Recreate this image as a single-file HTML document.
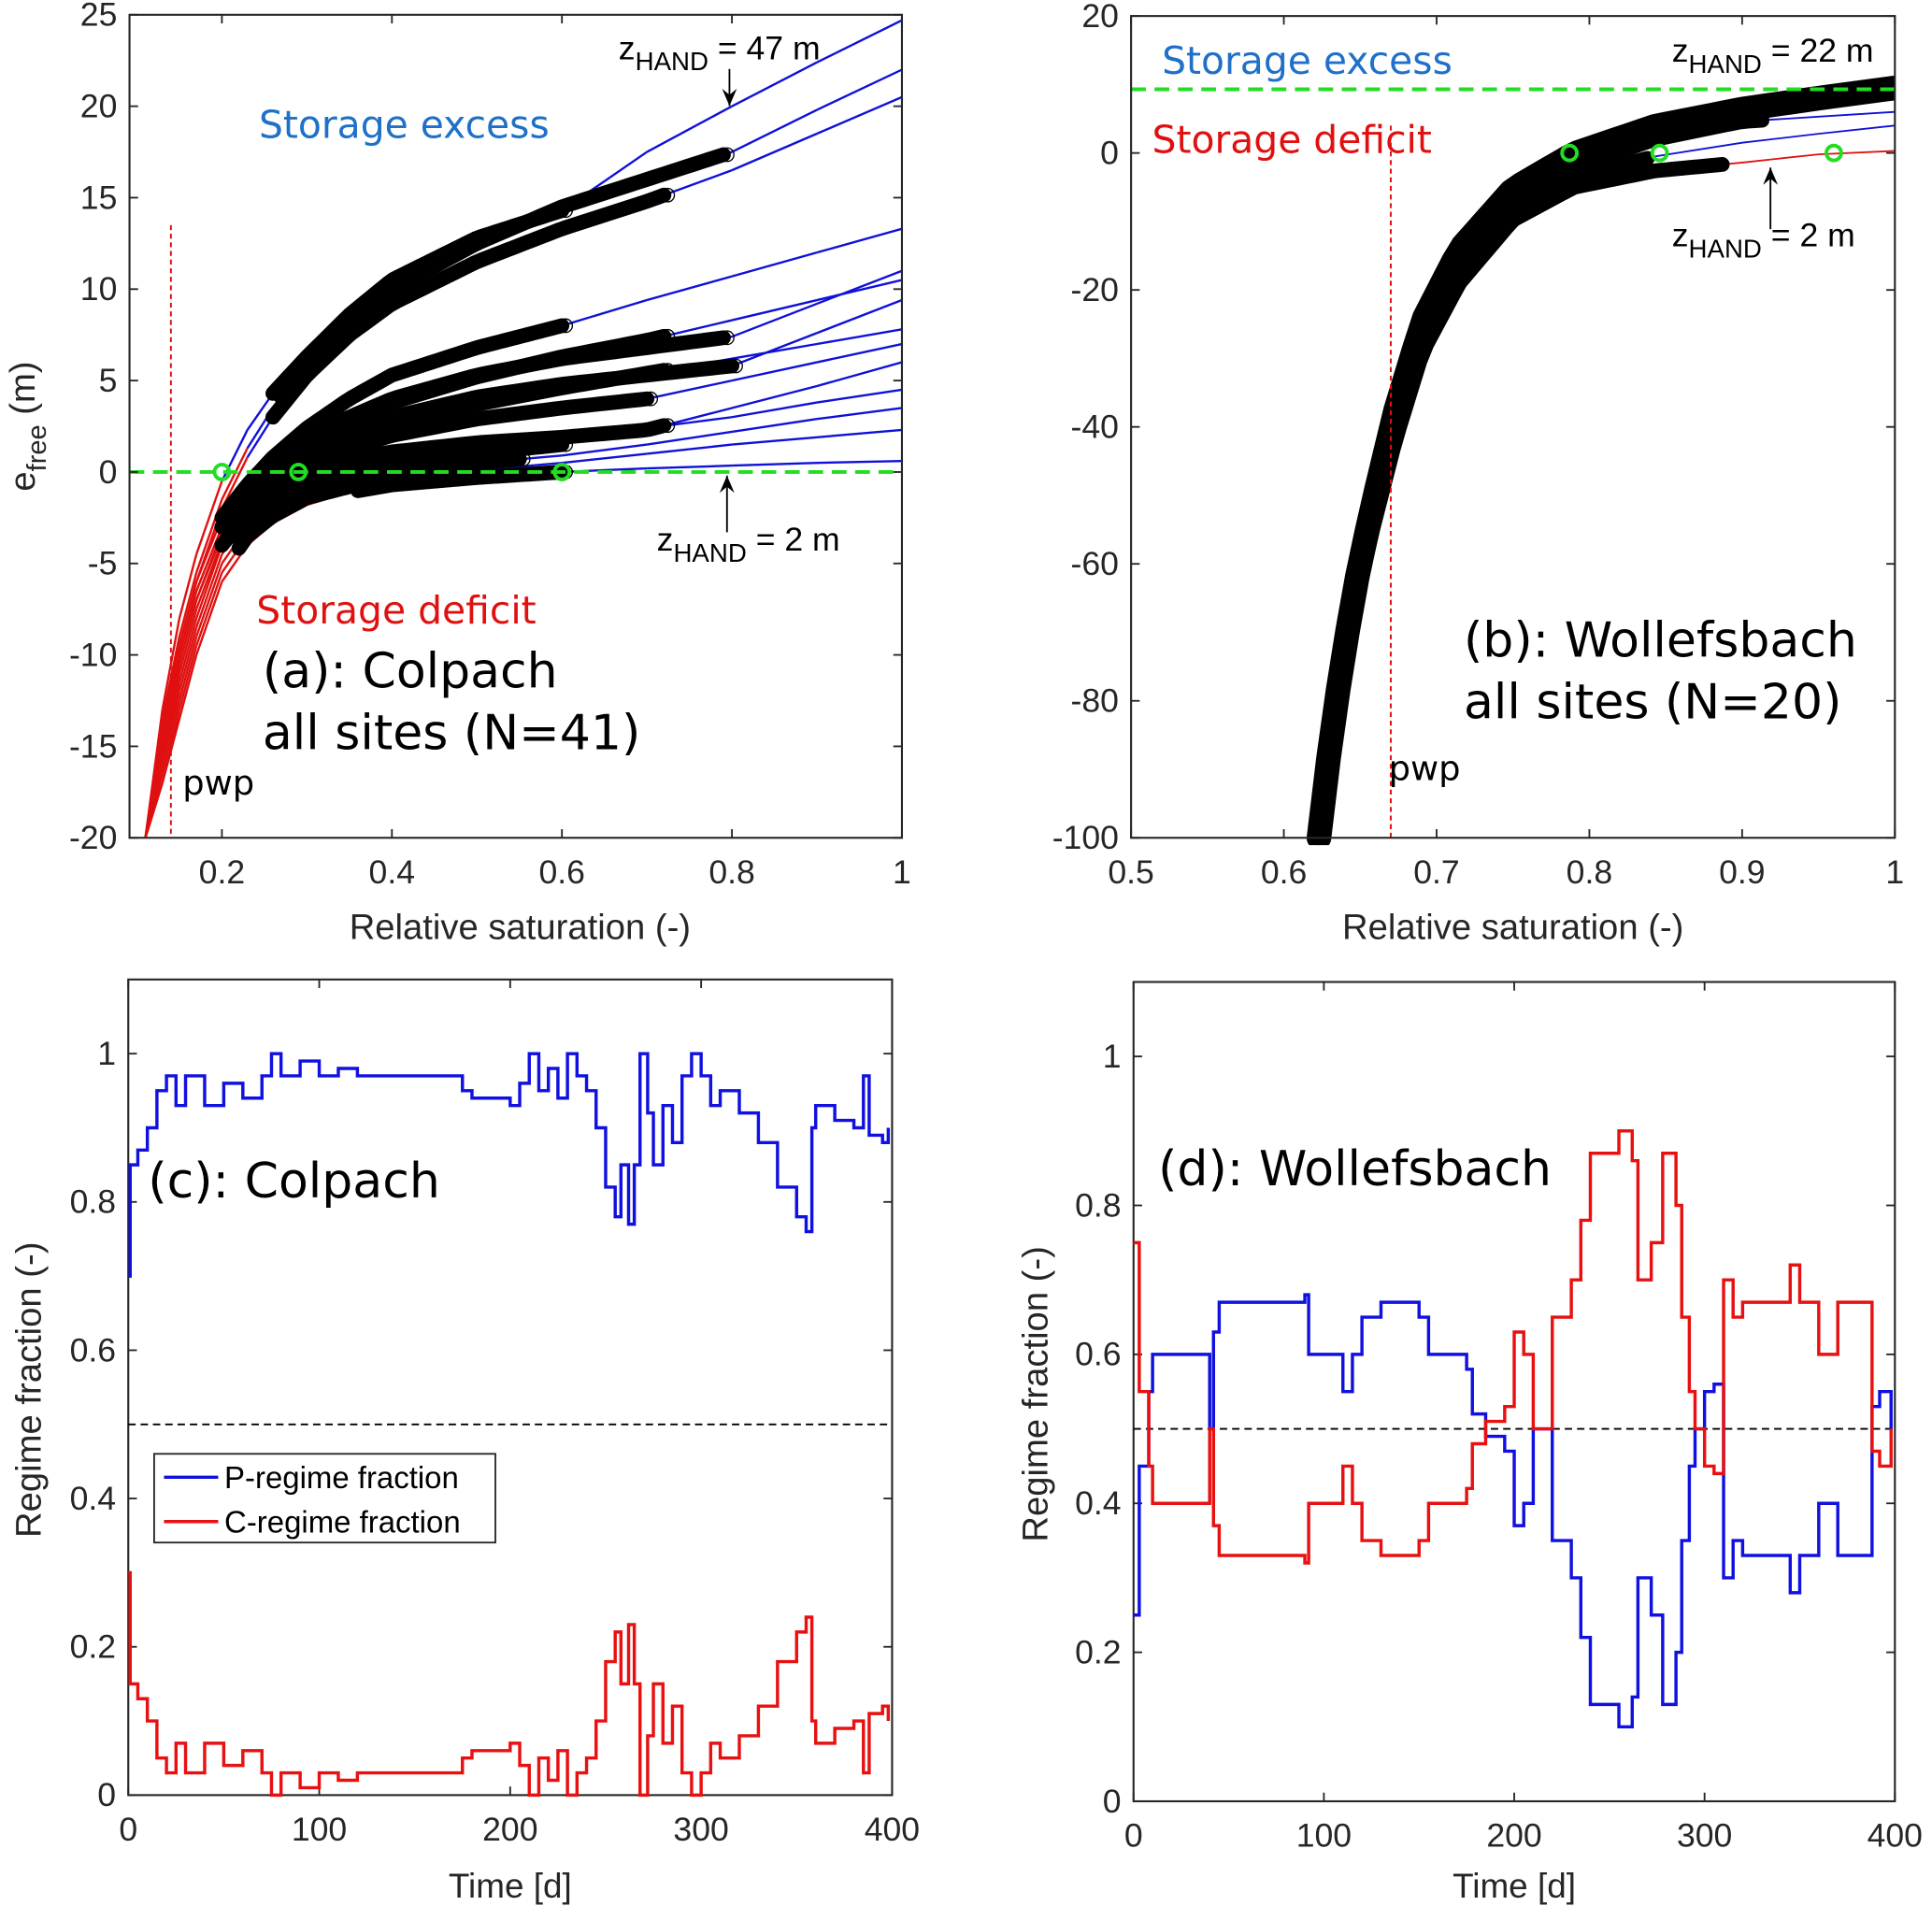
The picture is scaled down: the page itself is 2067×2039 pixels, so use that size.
<!DOCTYPE html>
<html><head><meta charset="utf-8"><style>
html,body{margin:0;padding:0;background:#fff}
svg{display:block}
text{font-family:"Liberation Sans","DejaVu Sans",sans-serif}
text.dv{font-family:"DejaVu Sans","Liberation Sans",sans-serif}
</style></head><body>
<svg id="fig" width="2067" height="2039" viewBox="0 0 1568 1547" xmlns="http://www.w3.org/2000/svg">
<g id="ga"></g>
<g id="gb"></g>
<g id="gc"></g>
<g id="gd"></g>
</svg>
<script>
// ---- Panel (a) data ----
const aX = [0.11,0.13,0.15,0.17,0.2,0.23,0.26,0.3,0.35,0.4,0.5,0.6,0.7,0.8,0.9,1.0];
const aCurves = [
 [-20,-13,-8,-4.5,-0.5,2.3,4.3,6.3,8.6,10.5,12.8,14.3,17.5,20,22.4,24.7],
 [-20,-13.5,-9,-5.5,-1.5,1.3,3.5,5.8,8.2,10,12.5,14.5,16,17.5,19.8,22],
 [-20,-14,-9.5,-6,-2,0.8,3,5.3,7.5,9.2,11.5,13.3,14.8,16.5,18.5,20.5],
 [-20,-14,-9.5,-6,-2.5,-0.7,0.8,2.4,4,5.3,6.8,8,9.4,10.7,12,13.3],
 [-20,-14.5,-10,-6.5,-3,-1.2,0.3,1.8,3,4,5.3,6.2,6.8,7.4,9.2,11],
 [-20,-14.5,-10,-6.5,-3,-1.3,0.1,1.5,2.8,3.8,5.2,6.3,7.2,8.3,9.4,10.5],
 [-20,-15,-10.5,-7,-3.3,-1.6,-0.2,1.1,2.2,3,4.1,4.8,5.3,5.8,7.6,9.4],
 [-20,-15,-10.5,-7,-3.5,-1.8,-0.5,0.8,1.8,2.6,3.7,4.6,5.4,6.2,7,7.8],
 [-20,-15.5,-11,-7.5,-3.8,-2,-0.8,0.4,1.3,2,2.9,3.5,4,5,6,7],
 [-20,-16,-11.5,-8,-4,-2.3,-1.2,0,0.7,1.1,1.6,1.9,2.3,3.5,4.7,6],
 [-20,-16,-12,-8.5,-4.5,-2.6,-1.6,-0.5,0.1,0.5,1,1.5,2.4,3,3.8,4.5],
 [-20,-16.5,-12.5,-9,-5,-3,-2,-1,-0.4,0,0.5,0.9,1.5,2.2,2.9,3.5],
 [-20,-17,-13,-9.5,-5.5,-3.5,-2.4,-1.4,-0.8,-0.4,0.1,0.5,1,1.5,1.9,2.3],
 [-20,-17,-13.5,-10,-6,-4,-2.8,-1.8,-1.1,-0.7,-0.3,0,0.2,0.35,0.5,0.6]
];
const aBandStart = [0.26,0.27,0.26,0.2,0.2,0.2,0.21,0.21,0.22,0.2,0.22,0.22,0.22,0.36];
const aBandEnd   = [0.6,0.79,0.72,0.6,0.79,0.72,0.8,0.72,0.7,0.72,0.6,0.55,0.5,0.6];
const aGreenX = [0.2,0.29,0.6];
const aXTicks = [0.2,0.4,0.6,0.8,1];
const aYTicks = [-20,-15,-10,-5,0,5,10,15,20,25];
// ---- Panel (b) data ----
const bX = [0.623,0.63,0.638,0.647,0.657,0.673,0.691,0.715,0.75,0.79,0.843,0.9,0.95,1.0];
const bCurves = [
 [-100,-87,-74.6,-63,-52.5,-37.7,-24.5,-14.1,-5.3,-0.1,3.9,6.4,8,9.5],
 [-100,-88,-76,-64,-54,-39,-26,-15.5,-7,-2,2,4.6,5.3,6],
 [-100,-88,-76,-64,-54,-39,-26,-17,-8.5,-3.5,-0.5,1.5,2.8,4],
 [-100,-89,-77,-66,-56,-42,-29,-19,-9.8,-5,-2.6,-1.4,-0.2,0.3]
];
const bBandEnd = [1.0,0.913,0.838,0.887];
const bGreenX = [0.787,0.846,0.96];
const bXTicks = [0.5,0.6,0.7,0.8,0.9,1];
const bYTicks = [-100,-80,-60,-40,-20,0,20];
// ---- Panel (c) data ----
const cT = [0,1,5,10,15,20,25,30,40,50,60,70,75,80,90,100,110,120,140,175,180,200,205,210,215,220,225,230,235,240,245,250,255,258,262,265,268,272,275,280,285,290,295,300,305,310,320,330,340,350,355,358,360,370,380,385,388,395,398];
const cP = [0.7,0.85,0.87,0.9,0.95,0.97,0.93,0.97,0.93,0.96,0.94,0.97,1.0,0.97,0.99,0.97,0.98,0.97,0.97,0.95,0.94,0.93,0.96,1.0,0.95,0.98,0.94,1.0,0.97,0.95,0.9,0.82,0.78,0.85,0.77,0.85,1.0,0.92,0.85,0.93,0.88,0.97,1.0,0.97,0.93,0.95,0.92,0.88,0.82,0.78,0.76,0.9,0.93,0.91,0.9,0.97,0.89,0.88,0.9];
const cC = [0.3,0.15,0.13,0.1,0.05,0.03,0.07,0.03,0.07,0.04,0.06,0.03,0.0,0.03,0.01,0.03,0.02,0.03,0.03,0.05,0.06,0.07,0.04,0.0,0.05,0.02,0.06,0.0,0.03,0.05,0.1,0.18,0.22,0.15,0.23,0.15,0.0,0.08,0.15,0.07,0.12,0.03,0.0,0.03,0.07,0.05,0.08,0.12,0.18,0.22,0.24,0.1,0.07,0.09,0.1,0.03,0.11,0.12,0.1];
// ---- Panel (d) data ----
const dT = [0,3,8,10,40,42,45,90,92,110,115,120,130,150,155,170,175,178,185,195,200,205,210,220,230,235,240,250,255,262,265,272,278,285,288,292,295,300,305,310,315,320,340,345,350,360,370,380,388,392,398];
const dP = [0.25,0.45,0.55,0.6,0.5,0.63,0.67,0.68,0.6,0.55,0.6,0.65,0.67,0.65,0.6,0.6,0.58,0.52,0.49,0.47,0.37,0.4,0.5,0.35,0.3,0.22,0.13,0.13,0.1,0.14,0.3,0.25,0.13,0.2,0.35,0.45,0.5,0.55,0.56,0.3,0.35,0.33,0.33,0.28,0.33,0.4,0.33,0.33,0.53,0.55,0.5];
const dC = [0.75,0.55,0.45,0.4,0.5,0.37,0.33,0.32,0.4,0.45,0.4,0.35,0.33,0.35,0.4,0.4,0.42,0.48,0.51,0.53,0.63,0.6,0.5,0.65,0.7,0.78,0.87,0.87,0.9,0.86,0.7,0.75,0.87,0.8,0.65,0.55,0.5,0.45,0.44,0.7,0.65,0.67,0.67,0.72,0.67,0.6,0.67,0.67,0.47,0.45,0.5];
const tXTicks = [0,100,200,300,400];
const cYTicks = [0,0.2,0.4,0.6,0.8,1];

const NS = "http://www.w3.org/2000/svg";
function el(parent, tag, attrs, txt){
  const e = document.createElementNS(NS, tag);
  for (const k in attrs) e.setAttribute(k, attrs[k]);
  if (txt !== undefined) e.textContent = txt;
  parent.appendChild(e); return e;
}
function lin(d0,d1,r0,r1){ return v => r0 + (v-d0)/(d1-d0)*(r1-r0); }
function interp(xs, ys, x){
  for (let i=0;i<xs.length-1;i++){ if (x<=xs[i+1]) { const f=(x-xs[i])/(xs[i+1]-xs[i]); return ys[i]+f*(ys[i+1]-ys[i]); } }
  return ys[ys.length-1];
}
function axes(g, L, T, R, B, sx, sy, xt, yt, fmtx, fmty, name){
  const box = el(g,'rect',{x:L,y:T,width:R-L,height:B-T,fill:'none',stroke:'#262626','stroke-width':1.6});
  
  
  xt.forEach(v=>{
    const x=sx(v);
    el(g,'line',{x1:x,y1:B,x2:x,y2:B-7,stroke:'#262626','stroke-width':1.4});
    el(g,'line',{x1:x,y1:T,x2:x,y2:T+7,stroke:'#262626','stroke-width':1.4});
    const t = el(g,'text',{x:x,y:B+37,'font-size':27,'text-anchor':'middle',fill:'#262626'}, fmtx(v));
    
    
  });
  yt.forEach(v=>{
    const y=sy(v);
    el(g,'line',{x1:L,y1:y,x2:L+7,y2:y,stroke:'#262626','stroke-width':1.4});
    el(g,'line',{x1:R,y1:y,x2:R-7,y2:y,stroke:'#262626','stroke-width':1.4});
    const t = el(g,'text',{x:L-10,y:y+9,'font-size':27,'text-anchor':'end',fill:'#262626'}, fmty(v));
    
    
  });
}
function label(g, x, y, size, txt, fill, name, anchor, cls){
  const t = el(g,'text',{x:x,y:y,'font-size':size,fill:fill||'#000','text-anchor':anchor||'start'}, txt);
  if (cls) t.setAttribute('class', cls);
  
  
  return t;
}
function zhand(g, x, y, val, name){
  const t = el(g,'text',{x:x,y:y,'font-size':27,fill:'#000'});
  
  
  el(t,'tspan',{},'z');
  el(t,'tspan',{dy:9,'font-size':21},'HAND');
  el(t,'tspan',{dy:-9},' = '+val);
}
function arrow(g, x, y1, y2){
  el(g,'line',{x1:x,y1:y1,x2:x,y2:y2,stroke:'#000','stroke-width':1.4});
  const d = y2>y1?-1:1;
  el(g,'path',{d:`M${x-6},${y2+d*14} L${x},${y2} L${x+6},${y2+d*14} L${x},${y2+d*9}Z`,fill:'#000'});
}
function fmtNum(v){ return String(v); }
function bandPts(sx, sy, xs, ys, x0, x1){
  const pts=[];
  for (let k=0;k<=60;k++){ const x=x0+(x1-x0)*k/60; pts.push(sx(x).toFixed(2)+','+sy(interp(xs,ys,x)).toFixed(2)); }
  return pts.join(' ');
}

// ===== Panel (a) =====
(function(){
  const g = document.getElementById('ga');
  const L=105,R=732,T=12,B=680;
  const sx = lin(0.2,1,180,732), sy = lin(-20,25,B,T);
  const clip = el(g,'clipPath',{id:'ca'}); el(clip,'rect',{x:L,y:T,width:R-L,height:B-T});
  const pg = el(g,'g',{'clip-path':'url(#ca)'});
  aCurves.forEach((ys,ci)=>{
    for (let i=0;i<aX.length-1;i++){
      const col = (ys[i]+ys[i+1])/2 < 0 ? '#e01010' : '#1010d8';
      const s = el(pg,'line',{x1:sx(aX[i]),y1:sy(ys[i]),x2:sx(aX[i+1]),y2:sy(ys[i+1]),stroke:col,'stroke-width':1.8});
      
      
    }
  });
  aCurves.forEach((ys,ci)=>{
    const x0=aBandStart[ci], x1=aBandEnd[ci];
    const p = el(pg,'polyline',{points:bandPts(sx,sy,aX,ys,x0,x1),fill:'none',stroke:'#000','stroke-width':12,'stroke-linecap':'round','stroke-linejoin':'round'});
    
    
    el(pg,'circle',{cx:sx(x1)+3,cy:sy(interp(aX,ys,x1)),r:5.5,fill:'none',stroke:'#000','stroke-width':1});
  });
  const gl = el(pg,'line',{x1:L,y1:sy(0),x2:R,y2:sy(0),stroke:'#22dd22','stroke-width':3,'stroke-dasharray':'12,7'});
  
  
  aGreenX.forEach(x=>{ el(pg,'circle',{cx:sx(x),cy:sy(0),r:6,fill:'none',stroke:'#22dd22','stroke-width':3}); });
  const pw = el(pg,'line',{x1:sx(0.14),y1:sy(13.5),x2:sx(0.14),y2:B,stroke:'#e01010','stroke-width':1.5,'stroke-dasharray':'4,3'});
  
  
  axes(g,L,T,R,B,sx,sy,aXTicks,aYTicks,fmtNum,fmtNum,'panel-a');
  zhand(g,502,48,'47 m','zhand-47-label'); arrow(g,592,56,86);
  zhand(g,533,447,'2 m','zhand-2-label-a'); arrow(g,590,432,386);
  label(g,210,112,31,'Storage excess','#1f70c8','storage-excess-a',null,'dv');
  label(g,208,506,31,'Storage deficit','#e01010','storage-deficit-a',null,'dv');
  label(g,213,558,39.5,'(a): Colpach','#000','panel-a-title',null,'dv');
  label(g,213,608,39.5,'all sites (N=41)','#000','panel-a-subtitle',null,'dv');
  label(g,148,645,28,'pwp','#000','pwp-label-a',null,'dv');
  label(g,422,762,29,'Relative saturation (-)','#262626','x-axis-title-a','middle');
  const yt = el(g,'text',{x:0,y:0,'font-size':29,fill:'#262626','text-anchor':'middle',transform:'translate(28,346) rotate(-90)'});
  
  
  el(yt,'tspan',{},'e'); el(yt,'tspan',{dy:9,'font-size':22},'free'); el(yt,'tspan',{dy:-9},' (m)');
})();

// ===== Panel (b) =====
(function(){
  const g = document.getElementById('gb');
  const L=918,R=1538,T=13,B=680;
  const sx = lin(0.5,1,L,R), sy = lin(-100,20,B,T);
  const clip = el(g,'clipPath',{id:'cb'}); el(clip,'rect',{x:L,y:T,width:R-L,height:B-T+6});
  const pg = el(g,'g',{'clip-path':'url(#cb)'});
  bCurves.forEach((ys,ci)=>{
    const col = ci===3 ? '#e01010' : '#1010d8';
    const p = el(pg,'polyline',{points:bX.map((x,i)=>sx(x)+','+sy(ys[i])).join(' '),fill:'none',stroke:col,'stroke-width':1.4});
    
    
  });
  bCurves.forEach((ys,ci)=>{
    const x1=bBandEnd[ci];
    const p = el(pg,'polyline',{points:bandPts(sx,sy,bX,ys,bX[0],x1),fill:'none',stroke:'#000','stroke-width':ci===0?20:12,'stroke-linecap':'round','stroke-linejoin':'round'});
    
    
  });
  const gl = el(pg,'line',{x1:L,y1:sy(9.3),x2:R,y2:sy(9.3),stroke:'#22dd22','stroke-width':3,'stroke-dasharray':'12,7'});
  
  
  bGreenX.forEach(x=>{ el(pg,'circle',{cx:sx(x),cy:sy(0),r:6,fill:'none',stroke:'#22dd22','stroke-width':3}); });
  const pw = el(pg,'line',{x1:sx(0.67),y1:sy(4),x2:sx(0.67),y2:B,stroke:'#e01010','stroke-width':1.5,'stroke-dasharray':'4,3'});
  
  
  axes(g,L,T,R,B,sx,sy,bXTicks,bYTicks,fmtNum,fmtNum,'panel-b');
  zhand(g,1357,50,'22 m','zhand-22-label');
  zhand(g,1357,200,'2 m','zhand-2-label-b'); arrow(g,1437,186,136);
  label(g,943,60,31,'Storage excess','#1f70c8','storage-excess-b',null,'dv');
  label(g,935,124,31,'Storage deficit','#e01010','storage-deficit-b',null,'dv');
  label(g,1188,533,39.5,'(b): Wollefsbach','#000','panel-b-title',null,'dv');
  label(g,1188,583,39.5,'all sites (N=20)','#000','panel-b-subtitle',null,'dv');
  label(g,1127,633,28,'pwp','#000','pwp-label-b',null,'dv');
  label(g,1228,762,29,'Relative saturation (-)','#262626','x-axis-title-b','middle');
})();

// ===== Time series panels =====
function stepPath(sx, sy, ts, vs){
  let d='M'+sx(ts[0])+','+sy(vs[0]);
  for (let i=1;i<ts.length;i++){ d+=' L'+sx(ts[i])+','+sy(vs[i-1])+' L'+sx(ts[i])+','+sy(vs[i]); }
  return d;
}
function tsPanel(id, L,R,T,B, ts, P, C, title, tx, ty, legend, ylx, name){
  const g = document.getElementById(id);
  const sx = lin(0,400,L,R), sy = lin(0,1.1,B,T);
  const fy = v => String(v);
  axes(g,L,T,R,B,sx,sy,tXTicks,cYTicks,fmtNum,fy,name);
  const hl = el(g,'line',{x1:L,y1:sy(0.5),x2:R,y2:sy(0.5),stroke:'#000','stroke-width':1.4,'stroke-dasharray':'6,4'});
  
  
  const pp = el(g,'path',{d:stepPath(sx,sy,ts,P),fill:'none',stroke:'#1010e0','stroke-width':2.6});
  
  
  const cp = el(g,'path',{d:stepPath(sx,sy,ts,C),fill:'none',stroke:'#e81010','stroke-width':2.6});
  
  
  label(g,tx,ty,39.5,title,'#000',name+'-title',null,'dv');
  label(g,(L+R)/2,1540,28,'Time [d]','#262626',name+'-x-axis-title','middle');
  const yt = el(g,'text',{x:0,y:0,'font-size':29,fill:'#262626','text-anchor':'middle',transform:`translate(${ylx},${(T+B)/2+2}) rotate(-90)`},'Regime fraction (-)');
  
  
  if (legend){
    const lg = el(g,'g',{});
    
    
    el(lg,'rect',{x:125,y:1180,width:277,height:72,fill:'#fff',stroke:'#262626','stroke-width':1.4});
    el(lg,'line',{x1:133,y1:1199,x2:177,y2:1199,stroke:'#1010e0','stroke-width':2.6});
    el(lg,'line',{x1:133,y1:1235,x2:177,y2:1235,stroke:'#e81010','stroke-width':2.6});
    const e1 = el(lg,'text',{x:182,y:1208,'font-size':25,fill:'#000'},'P-regime fraction');
    
    
    const e2 = el(lg,'text',{x:182,y:1244,'font-size':25,fill:'#000'},'C-regime fraction');
    
    
  }
}
tsPanel('gc',104,724,795,1457,cT,cP,cC,'(c): Colpach',120,972,true,33,'panel-c');
tsPanel('gd',920,1538,797,1462,dT,dP,dC,'(d): Wollefsbach',940,962,false,850,'panel-d');
</script>
</body></html>
